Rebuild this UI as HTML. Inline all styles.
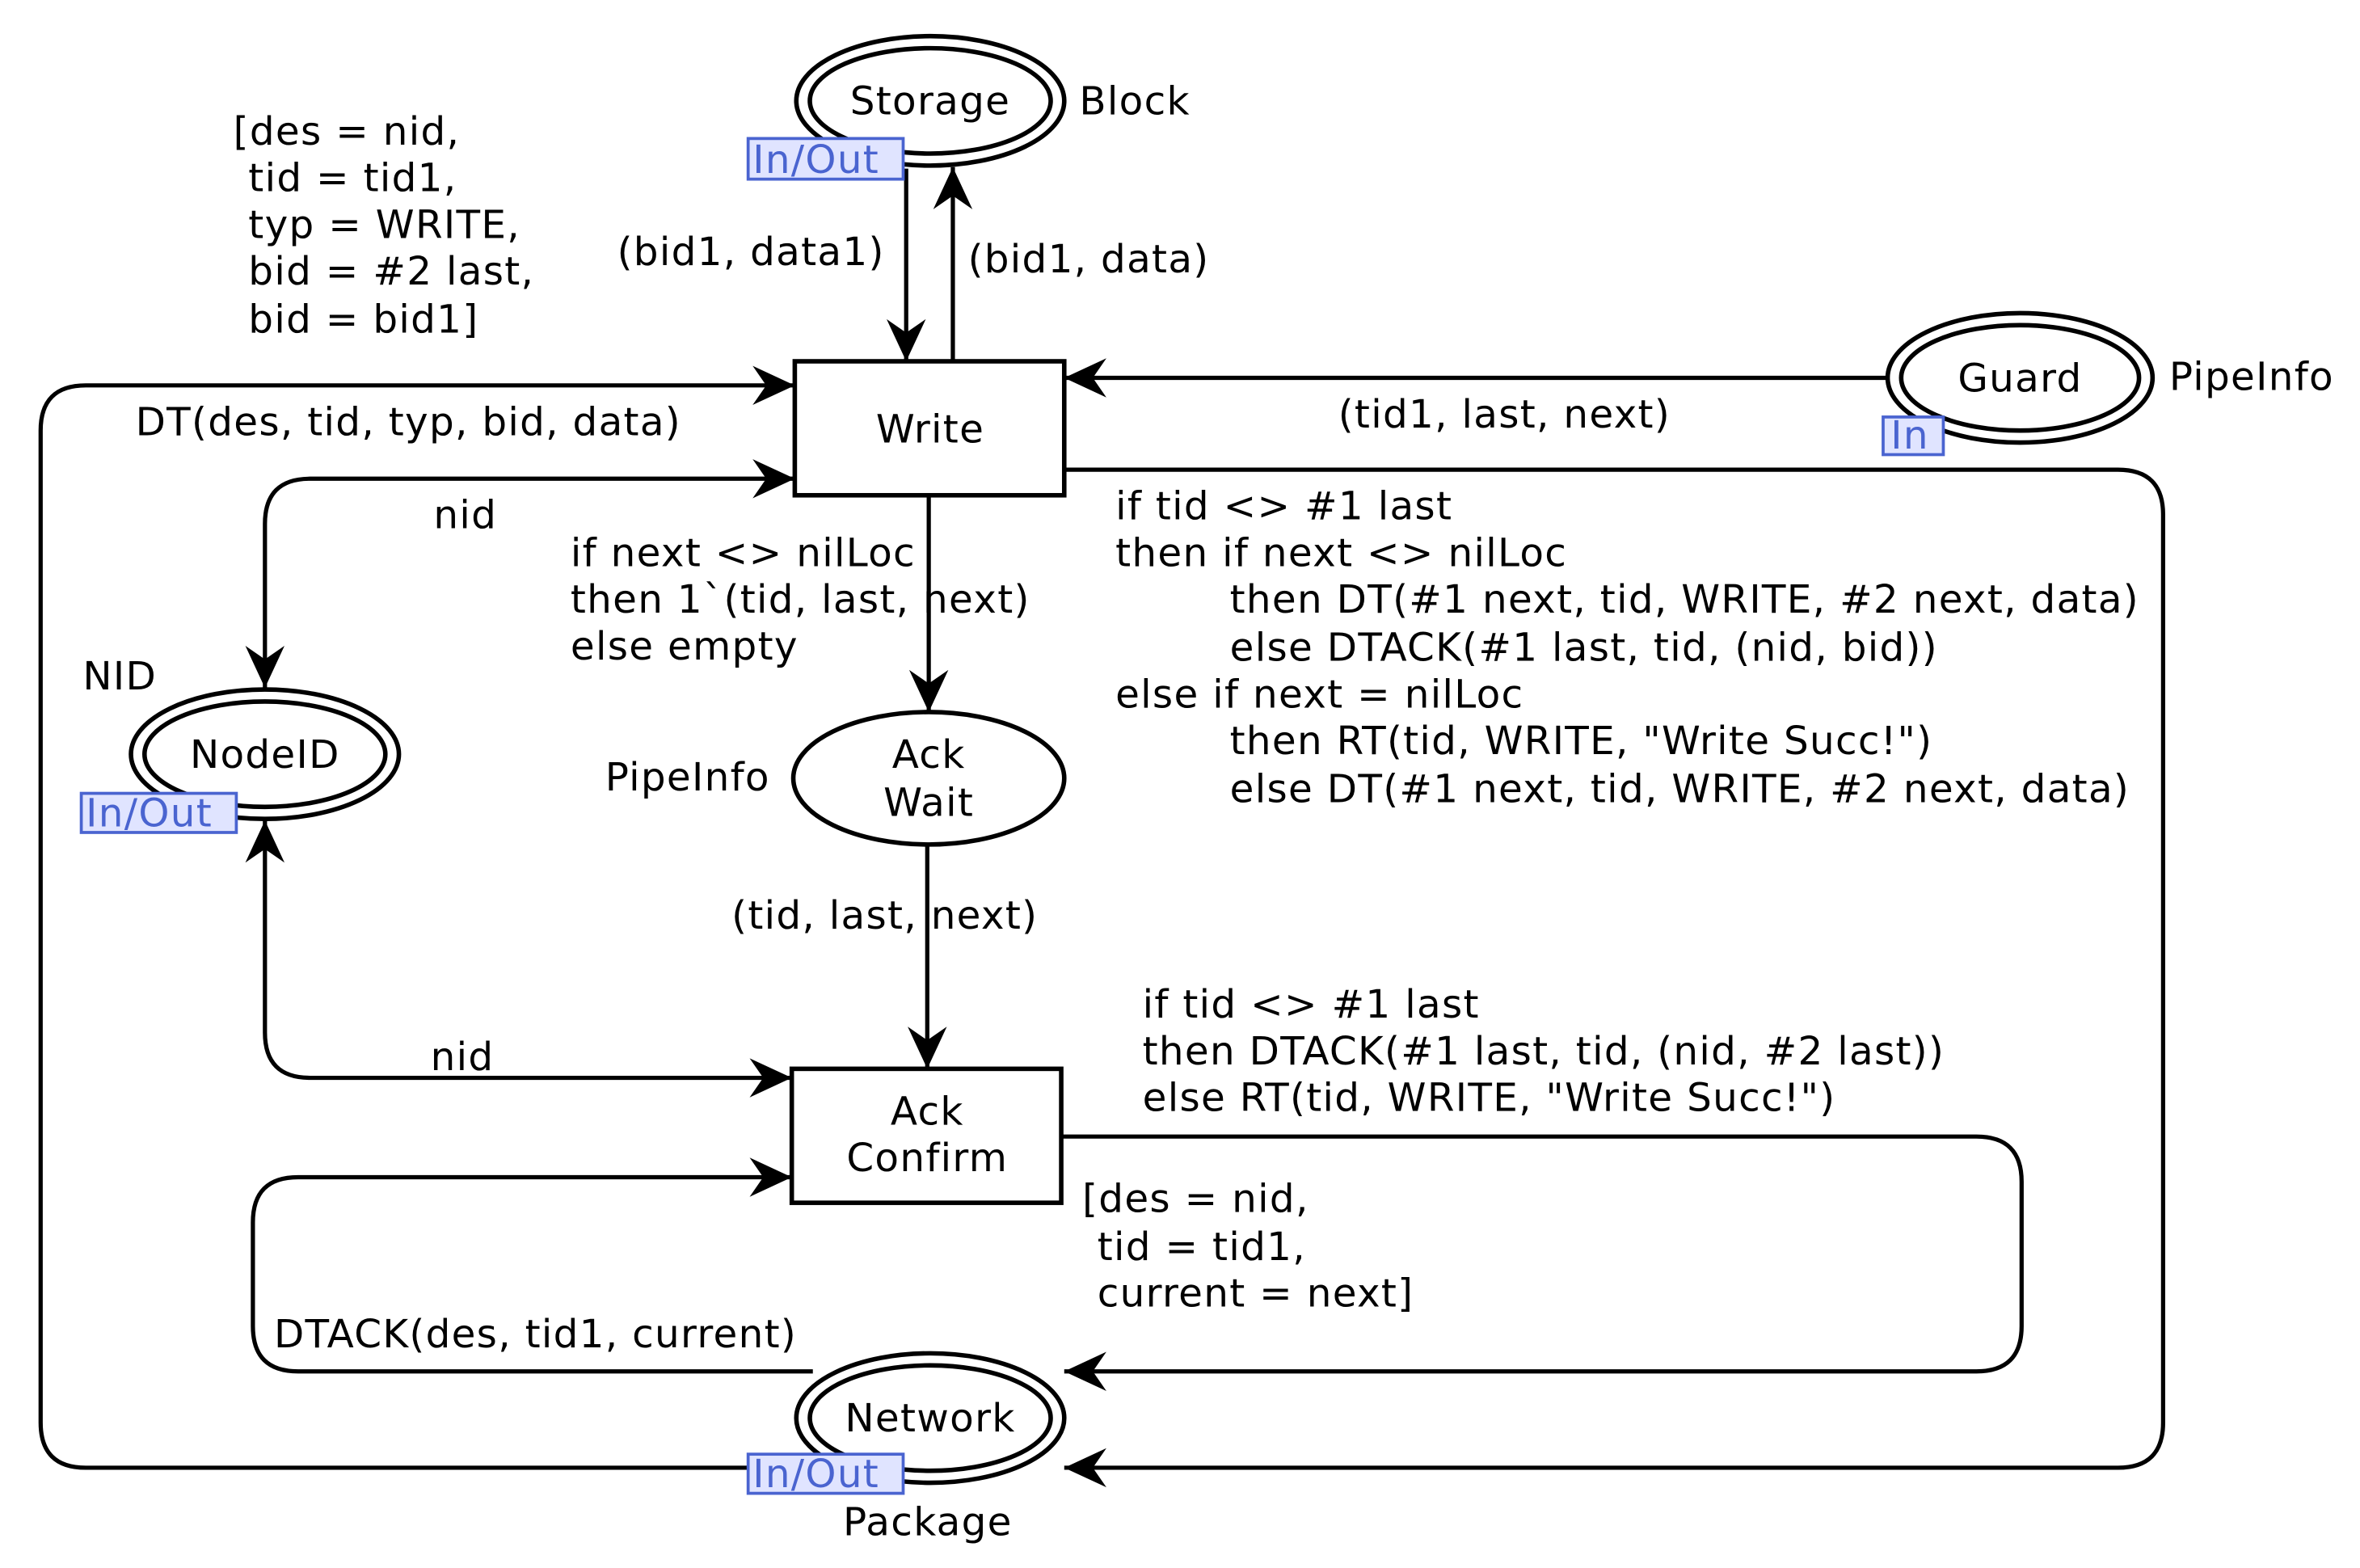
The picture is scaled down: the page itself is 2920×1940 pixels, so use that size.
<!DOCTYPE html>
<html><head><meta charset="utf-8"><style>
html,body{margin:0;padding:0;background:#fff;}
svg{display:block;}
text{font-family:"DejaVu Sans","Liberation Sans",sans-serif;font-size:26px;letter-spacing:0.7px;fill:#000;}
.p{fill:#4a64d0;}
</style></head><body>
<svg width="2920" height="1940" viewBox="0 0 1567.8 1041.6" xmlns="http://www.w3.org/2000/svg">
<defs>
<marker id="a" viewBox="-30 -14 32 28" refX="0" refY="0" markerWidth="32" markerHeight="28" markerUnits="userSpaceOnUse" orient="auto-start-reverse">
<path d="M0,0 L-28,-13 L-19,0 L-28,13 Z" fill="#000"/>
</marker>
</defs>
<g fill="none" stroke="#000" stroke-width="2.8">
<ellipse cx="618" cy="67" rx="89" ry="43" stroke-width="3"/>
<ellipse cx="618" cy="67" rx="80" ry="35" stroke-width="3"/>
<ellipse cx="1342" cy="251" rx="88" ry="43" stroke-width="3"/>
<ellipse cx="1342" cy="251" rx="79" ry="35" stroke-width="3"/>
<ellipse cx="176" cy="501" rx="89" ry="43" stroke-width="3"/>
<ellipse cx="176" cy="501" rx="80" ry="35" stroke-width="3"/>
<ellipse cx="618" cy="942" rx="89" ry="43" stroke-width="3"/>
<ellipse cx="618" cy="942" rx="80" ry="35" stroke-width="3"/>
<ellipse cx="617" cy="517" rx="90" ry="44" stroke-width="3"/>
<rect x="528" y="240" width="179" height="89" stroke-width="3"/>
<rect x="526" y="710" width="179" height="89" stroke-width="3"/>
<path d="M602 112 V240" marker-end="url(#a)"/>
<path d="M633 240 V111" marker-end="url(#a)"/>
<path d="M1254 251 H707" marker-end="url(#a)"/>
<path d="M540 975 H57 Q27 975 27 945 V286 Q27 256 57 256 H528" marker-end="url(#a)"/>
<path d="M707 312 H1407 Q1437 312 1437 342 V945 Q1437 975 1407 975 H707" marker-end="url(#a)"/>
<path d="M528 318 H206 Q176 318 176 348 V457" marker-start="url(#a)" marker-end="url(#a)"/>
<path d="M176 545 V686 Q176 716 206 716 H526" marker-start="url(#a)" marker-end="url(#a)"/>
<path d="M617 329 V473" marker-end="url(#a)"/>
<path d="M616 561 V710" marker-end="url(#a)"/>
<path d="M705 755 H1313 Q1343 755 1343 785 V881 Q1343 911 1313 911 H707" marker-end="url(#a)"/>
<path d="M540 911 H198 Q168 911 168 881 V812 Q168 782 198 782 H526" marker-end="url(#a)"/>
</g>
<g fill="#e0e4ff" stroke="#4a64d0" stroke-width="2">
<rect x="497" y="92" width="103" height="27"/>
<rect x="1251" y="277" width="40" height="25"/>
<rect x="54" y="527" width="103" height="26"/>
<rect x="497" y="966" width="103" height="26"/>
</g>
<text class="p" x="500" y="115">In/Out</text>
<text class="p" x="1256" y="298">In</text>
<text class="p" x="57" y="549">In/Out</text>
<text class="p" x="500" y="988">In/Out</text>
<g text-anchor="middle">
<text x="618" y="76">Storage</text>
<text x="1342" y="260">Guard</text>
<text x="176" y="510">NodeID</text>
<text x="618" y="951">Network</text>
<text x="617" y="510">Ack</text>
<text x="617" y="542">Wait</text>
<text x="618" y="294">Write</text>
<text x="616" y="747">Ack</text>
<text x="616" y="778">Confirm</text>
</g>
<text x="717" y="76">Block</text>
<text x="1441" y="259">PipeInfo</text>
<text x="55" y="458">NID</text>
<text x="402" y="525">PipeInfo</text>
<text x="560" y="1020">Package</text>
<text x="410" y="176">(bid1, data1)</text>
<text x="643" y="181">(bid1, data)</text>
<text x="889" y="284">(tid1, last, next)</text>
<text x="90" y="289">DT(des, tid, typ, bid, data)</text>
<text x="288" y="351">nid</text>
<text x="286" y="711">nid</text>
<text x="486" y="617">(tid, last, next)</text>
<text x="182" y="895">DTACK(des, tid1, current)</text>
<g xml:space="preserve">
<text x="155" y="96">[des = nid,</text>
<text x="165" y="127">tid = tid1,</text>
<text x="165" y="158">typ = WRITE,</text>
<text x="165" y="189">bid = #2 last,</text>
<text x="165" y="221">bid = bid1]</text>
<text x="379" y="376">if next &lt;&gt; nilLoc</text>
<text x="379" y="407">then 1`(tid, last, next)</text>
<text x="379" y="438">else empty</text>
<text x="741" y="345">if tid &lt;&gt; #1 last</text>
<text x="741" y="376">then if next &lt;&gt; nilLoc</text>
<text x="817" y="407">then DT(#1 next, tid, WRITE, #2 next, data)</text>
<text x="817" y="439">else DTACK(#1 last, tid, (nid, bid))</text>
<text x="741" y="470">else if next = nilLoc</text>
<text x="817" y="501">then RT(tid, WRITE, "Write Succ!")</text>
<text x="817" y="533">else DT(#1 next, tid, WRITE, #2 next, data)</text>
<text x="759" y="676">if tid &lt;&gt; #1 last</text>
<text x="759" y="707">then DTACK(#1 last, tid, (nid, #2 last))</text>
<text x="759" y="738">else RT(tid, WRITE, "Write Succ!")</text>
<text x="719" y="805">[des = nid,</text>
<text x="729" y="837">tid = tid1,</text>
<text x="729" y="868">current = next]</text>
</g>
</svg>
</body></html>
